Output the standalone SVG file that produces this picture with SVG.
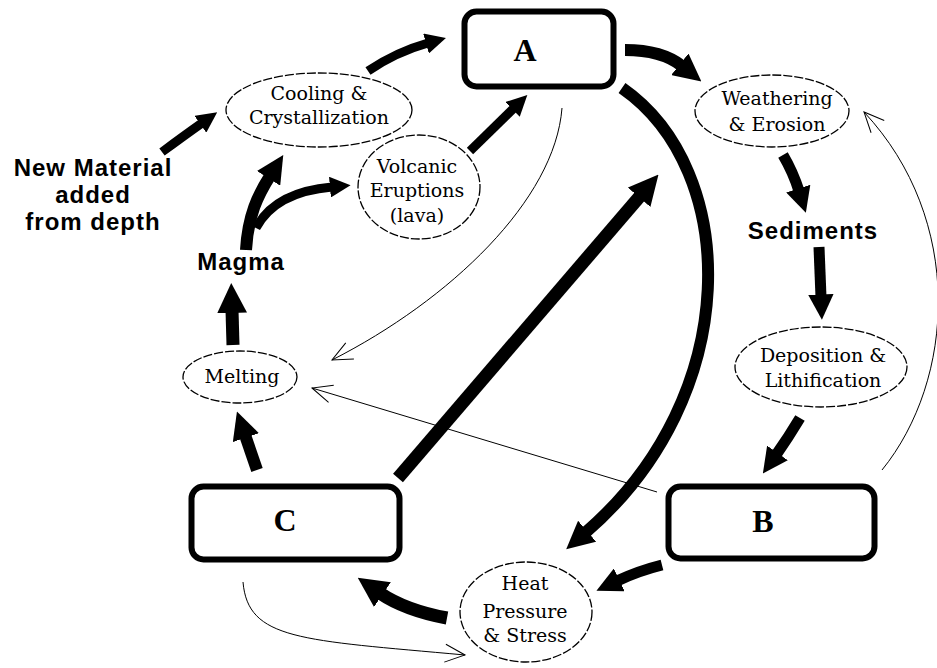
<svg xmlns="http://www.w3.org/2000/svg" width="937" height="668" viewBox="0 0 937 668">
<style>
.box{fill:#fff;stroke:#000;stroke-width:6}
.box-label{font-family:"Liberation Serif",serif;font-weight:bold;font-size:32px;text-anchor:middle;fill:#000}
.ell{fill:#fff;stroke:#000;stroke-width:1.3;stroke-dasharray:9 2}
.et{font-family:"DejaVu Serif",serif;font-size:19px;text-anchor:middle;fill:#000}
.bold{font-family:"Liberation Sans",Arial,sans-serif;font-weight:bold;font-size:24px;letter-spacing:1px;text-anchor:middle;fill:#000}
.thick{fill:none;stroke:#000;marker-end:url(#h)}
.thin{fill:none;stroke:#000;stroke-width:1;marker-end:url(#v)}
</style>
<defs>
<marker id="h" viewBox="0 0 10 10" refX="1" refY="5" markerWidth="2.3" markerHeight="2.3" orient="auto"><path d="M0,0 L10,5 L0,10 z" fill="#000"/></marker>
<marker id="v" viewBox="-22 -12 24 24" refX="0" refY="0" markerWidth="24" markerHeight="24" markerUnits="userSpaceOnUse" orient="auto"><path d="M-20,-9 L0,0 L-20,9" fill="none" stroke="#000" stroke-width="1"/></marker>
</defs>
<rect width="937" height="668" fill="#fff"/>

<g id="connectors">
<path class="thin" d="M562,108 C555,200 450,300 332,360"/>
<path class="thin" d="M657,492 L312,388"/>
<path class="thin" d="M882,470 C955,380 965,220 864,112"/>
<path class="thin" d="M243,582 C248,640 300,640 465,655"/>
<path class="thick" stroke-width="9" d="M368,71 Q396,52 428,43"/>
<path class="thick" stroke-width="12" d="M625,50 Q662,50 682,66"/>
<path class="thick" stroke-width="9" d="M162,152 Q185,135 202,123"/>
<path class="thick" stroke-width="12" d="M246,250 C248,215 258,195 270,176"/>
<path class="thick" stroke-width="9" d="M256,228 Q275,192 332,187"/>
<path class="thick" stroke-width="9" d="M470,151 L514,108"/>
<path class="thick" stroke-width="11" d="M783,155 Q793,172 799,191"/>
<path class="thick" stroke-width="11" d="M819,247 L821,297"/>
<path class="thick" stroke-width="11" d="M800,418 Q788,438 776,455"/>
<path class="thick" stroke-width="11" d="M662,565 Q638,571 617,581"/>
<path class="thick" stroke-width="13" d="M447,618 Q405,610 380,593"/>
<path class="thick" stroke-width="12" d="M257,470 L245,435"/>
<path class="thick" stroke-width="13" d="M233,345 L232,310"/>
<path class="thick" stroke-width="12" d="M622,88 C740,170 745,395 585,533"/>
<path class="thick" stroke-width="13" d="M398,478 L641,195"/>
</g>

<g id="nodeA"><rect class="box" x="464.5" y="11.5" width="149" height="75" rx="12"/><text class="box-label" x="525" y="61">A</text></g>
<g id="nodeB"><rect class="box" x="668.5" y="486.5" width="206" height="72" rx="12"/><text class="box-label" x="763" y="532">B</text></g>
<g id="nodeC"><rect class="box" x="191.5" y="486.5" width="208" height="73" rx="12"/><text class="box-label" x="285" y="531">C</text></g>

<g id="cooling"><ellipse class="ell" cx="319" cy="110" rx="93" ry="37"/><text class="et" x="319" y="100">Cooling &amp;</text><text class="et" x="319" y="124">Crystallization</text></g>
<g id="volcanic"><ellipse class="ell" cx="419" cy="187" rx="61" ry="52"/><text class="et" x="417" y="173">Volcanic</text><text class="et" x="417" y="197">Eruptions</text><text class="et" x="417" y="222">(lava)</text></g>
<g id="weathering"><ellipse class="ell" cx="772" cy="111" rx="77" ry="36"/><text class="et" x="777" y="105">Weathering</text><text class="et" x="777" y="131">&amp; Erosion</text></g>
<g id="deposition"><ellipse class="ell" cx="821" cy="367" rx="86" ry="40"/><text class="et" x="823" y="362">Deposition &amp;</text><text class="et" x="823" y="387">Lithification</text></g>
<g id="heat"><ellipse class="ell" cx="526" cy="612" rx="66" ry="50"/><text class="et" x="525" y="590">Heat</text><text class="et" x="525" y="618">Pressure</text><text class="et" x="525" y="642">&amp; Stress</text></g>
<g id="melting"><ellipse class="ell" cx="240" cy="377" rx="57" ry="26"/><text class="et" x="242" y="383">Melting</text></g>

<g id="newMaterial"><text class="bold" x="93" y="176">New Material</text><text class="bold" x="93" y="203">added</text><text class="bold" x="93" y="230">from depth</text></g>
<g id="magma"><text class="bold" x="241" y="270">Magma</text></g>
<g id="sediments"><text class="bold" x="813" y="239">Sediments</text></g>
</svg>
